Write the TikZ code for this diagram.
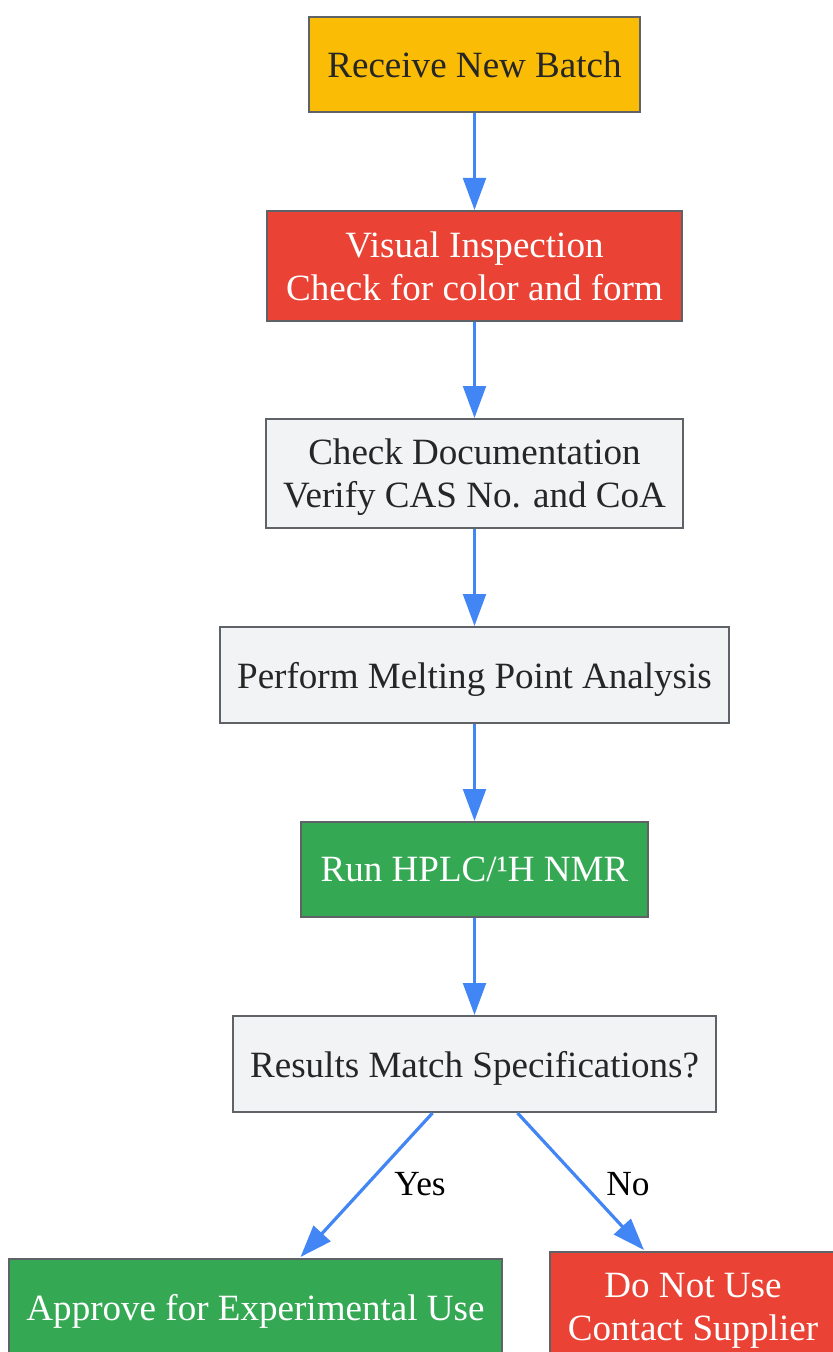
\documentclass[tikz,border=0pt]{standalone}
\usepackage{fontspec}
\setmainfont{Liberation Serif}
\usetikzlibrary{arrows.meta,calc}

\definecolor{gyellow}{HTML}{FBBC05}
\definecolor{gred}{HTML}{EA4335}
\definecolor{ggreen}{HTML}{34A853}
\definecolor{glight}{HTML}{F1F3F4}
\definecolor{gborder}{HTML}{5F6368}
\definecolor{gblue}{HTML}{4285F4}
\definecolor{gtext}{HTML}{262626}

\begin{document}
\begin{tikzpicture}[x=0.75pt, y=-0.75pt,
    box/.style={rectangle, draw=gborder, line width=1.5pt, inner sep=0pt, align=center,
        text depth=-3pt, font=\fontsize{27.8}{32.3}\selectfont},
    arr/.style={gblue, line width=2.4pt, -{Triangle[length=24pt, width=17pt]}},
    lbl/.style={font=\fontsize{26.5}{30}\selectfont, text=black}]
    \useasboundingbox (0,0) rectangle (832,1352);
    \node (R) [box, fill=gyellow, text=gtext, minimum width=248.25pt, minimum height=71.25pt] at (474.5, 64.5) {Receive New Batch};
    \node (V) [box, fill=gred, text=white, minimum width=311.25pt, minimum height=82.5pt] at (474.5, 266) {Visual Inspection\\Check for color and form};
    \node (D) [box, fill=glight, text=gtext, minimum width=312.75pt, minimum height=81.75pt] at (474.5, 473.5) {Check Documentation\\Verify CAS No. and CoA};
    \node (M) [box, fill=glight, text=gtext, minimum width=381.75pt, minimum height=72pt] at (474.5, 675) {Perform Melting Point Analysis};
    \node (H) [box, fill=ggreen, text=white, minimum width=260.25pt, minimum height=71.25pt] at (474.5, 869.5) {Run HPLC/¹H NMR};
    \node (S) [box, fill=glight, text=gtext, minimum width=362.25pt, minimum height=72pt] at (474.5, 1064) {Results Match Specifications?};
    \node (A) [box, fill=ggreen, text=white, minimum width=369.75pt, minimum height=72pt] at (255.5, 1307) {Approve for Experimental Use};
    \node (N) [box, fill=gred, text=white, minimum width=214.5pt, minimum height=82.5pt] at (693, 1307) {Do Not Use\\Contact Supplier};
    \draw [arr] (R) -- (V);
    \draw [arr] (V) -- (D);
    \draw [arr] (D) -- (M);
    \draw [arr] (M) -- (H);
    \draw [arr] (H) -- (S);
    \draw [arr] ($(S.south)+(-42,0)$) -- ($(A.north)+(45,-1)$);
    \draw [arr] ($(S.south)+(43,0)$) -- ($(N.north)+(-49,-1)$);
    \node (yes) [lbl] at (420, 1184) {Yes};
    \node (no) [lbl] at (628, 1184) {No};
\end{tikzpicture}
\end{document}
